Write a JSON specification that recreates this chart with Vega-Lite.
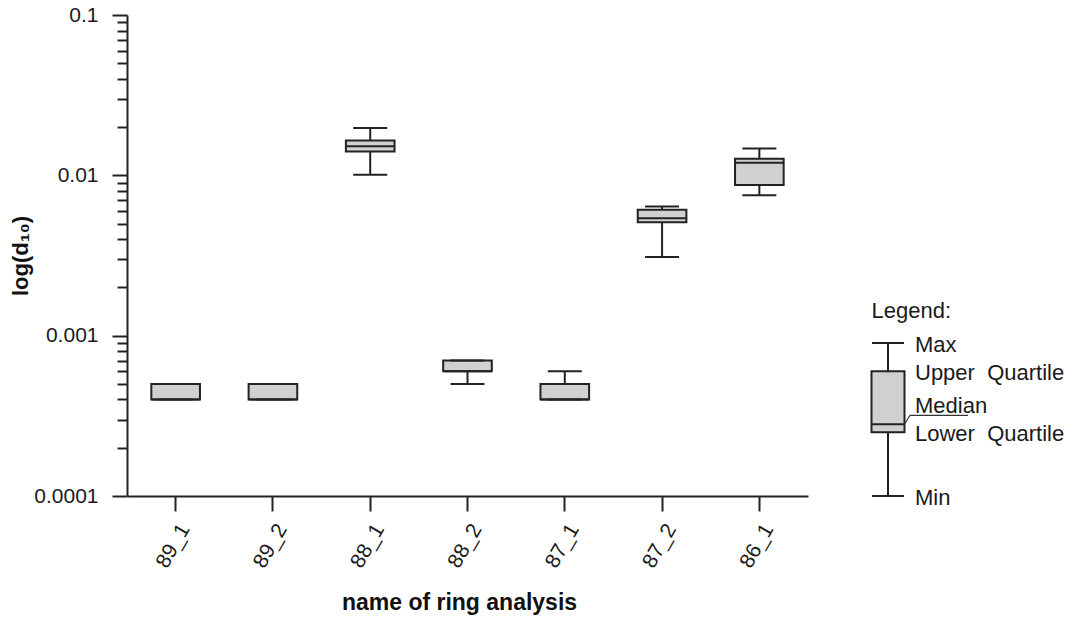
{
  "$schema": "https://vega.github.io/schema/vega-lite/v6.json",
  "background": "white",
  "padding": {"left": 9, "top": 4, "right": 5, "bottom": 5},
  "config": {
    "view": {"stroke": null},
    "font": "Liberation Sans",
    "axis": {
      "labelFont": "Liberation Sans",
      "titleFont": "Liberation Sans",
      "domainColor": "#222222",
      "tickColor": "#222222",
      "labelColor": "#1a1a1a",
      "titleColor": "#111111",
      "domainWidth": 2,
      "tickWidth": 2,
      "grid": false
    }
  },
  "datasets": {
    "rings": [
      {"name": "89_1", "min": 0.0004, "q1": 0.0004, "median": 0.0004, "q3": 0.0005, "max": 0.0005},
      {"name": "89_2", "min": 0.0004, "q1": 0.0004, "median": 0.0004, "q3": 0.0005, "max": 0.0005},
      {"name": "88_1", "min": 0.0101, "q1": 0.0141, "median": 0.0152, "q3": 0.0165, "max": 0.0197},
      {"name": "88_2", "min": 0.0005, "q1": 0.0006, "median": 0.0006, "q3": 0.0007, "max": 0.0007},
      {"name": "87_1", "min": 0.0004, "q1": 0.0004, "median": 0.0004, "q3": 0.0005, "max": 0.0006},
      {"name": "87_2", "min": 0.0031, "q1": 0.0051, "median": 0.0054, "q3": 0.0061, "max": 0.0064},
      {"name": "86_1", "min": 0.0075, "q1": 0.0087, "median": 0.012, "q3": 0.0127, "max": 0.0147}
    ],
    "legendBox": [
      {"key": "legend", "min": 0.0001, "q1": 0.00025, "median": 0.00028, "q3": 0.0006, "max": 0.0009}
    ],
    "legendLabels": [
      {"key": "legend", "stat": "max", "label": "Max", "value": 0.0009},
      {"key": "legend", "stat": "q3", "label": "Upper\u00a0 Quartile", "value": 0.0006},
      {"key": "legend", "stat": "median", "label": "Median", "value": 0.00028},
      {"key": "legend", "stat": "q1", "label": "Lower\u00a0 Quartile", "value": 0.00025},
      {"key": "legend", "stat": "min", "label": "Min", "value": 0.0001}
    ]
  },
  "bounds": "flush",
  "spacing": 50,
  "hconcat": [
    {
      "width": 681,
      "height": 481,
      "data": {"name": "rings"},
      "encoding": {
        "x": {
          "field": "name",
          "type": "nominal",
          "sort": null,
          "scale": {"paddingInner": 0, "paddingOuter": 0},
          "axis": {
            "title": "name of ring analysis",
            "labelAngle": -60,
            "labelAlign": "right",
            "labelBaseline": "top",
            "labelPadding": 9,
            "labelFontSize": 21,
            "tickSize": 15,
            "titleFontSize": 23,
            "titleFontWeight": "bold",
            "titleBaseline": "alphabetic",
            "titleY": 113,
            "titleX": 332
          }
        }
      },
      "layer": [
        {
          "mark": {"type": "rule", "stroke": "#222222", "strokeWidth": 2},
          "encoding": {
            "y": {
              "field": "min",
              "type": "quantitative",
              "title": "log(d₁₀)",
              "scale": {"type": "log", "domain": [0.0001, 0.1], "nice": false},
              "axis": {
                "values": [0.0001, 0.0002, 0.0003, 0.0004, 0.0005, 0.0006, 0.0007, 0.0008, 0.0009,
                           0.001, 0.002, 0.003, 0.004, 0.005, 0.006, 0.007, 0.008, 0.009,
                           0.01, 0.02, 0.03, 0.04, 0.05, 0.06, 0.07, 0.08, 0.09, 0.1],
                "tickSize": {
                  "condition": {"test": "abs(log(datum.value)/LN10 - round(log(datum.value)/LN10)) < 0.001", "value": 15},
                  "value": 10
                },
                "labelExpr": "abs(log(datum.value)/LN10 - round(log(datum.value)/LN10)) < 0.001 ? format(datum.value, '~g') : ''",
                "labelFontSize": 21,
                "labelPadding": 14,
                "labelFlush": false,
                "labelOverlap": false,
                "titleFontSize": 22,
                "titleFontWeight": "bold",
                "titleBaseline": "middle",
                "titleX": -107
              }
            },
            "y2": {"field": "q1"}
          }
        },
        {
          "mark": {"type": "rule", "stroke": "#222222", "strokeWidth": 2},
          "encoding": {
            "y": {"field": "q3", "type": "quantitative", "title": "log(d₁₀)"},
            "y2": {"field": "max"}
          }
        },
        {
          "mark": {"type": "bar", "width": {"band": 0.5}, "fill": "#d0d0d0", "stroke": "#222222", "strokeWidth": 2},
          "encoding": {
            "y": {"field": "q1", "type": "quantitative", "title": "log(d₁₀)"},
            "y2": {"field": "q3"}
          }
        },
        {
          "mark": {"type": "tick", "size": 48, "thickness": 2, "color": "#222222", "opacity": 1},
          "encoding": {"y": {"field": "median", "type": "quantitative", "title": "log(d₁₀)"}}
        },
        {
          "mark": {"type": "tick", "size": 34, "thickness": 2, "color": "#222222", "opacity": 1},
          "encoding": {"y": {"field": "min", "type": "quantitative", "title": "log(d₁₀)"}}
        },
        {
          "mark": {"type": "tick", "size": 34, "thickness": 2, "color": "#222222", "opacity": 1},
          "encoding": {"y": {"field": "max", "type": "quantitative", "title": "log(d₁₀)"}}
        }
      ]
    },
    {
      "width": 60,
      "height": 481,
      "encoding": {
        "x": {"field": "key", "type": "nominal", "scale": {"type": "point", "padding": 0.5}, "axis": null}
      },
      "layer": [
        {
          "data": {"name": "legendBox"},
          "mark": {"type": "rule", "stroke": "#222222", "strokeWidth": 2},
          "encoding": {
            "y": {"field": "min", "type": "quantitative", "scale": {"type": "log", "domain": [0.0001, 0.1], "nice": false}, "axis": null},
            "y2": {"field": "q1"}
          }
        },
        {
          "data": {"name": "legendBox"},
          "mark": {"type": "rule", "stroke": "#222222", "strokeWidth": 2},
          "encoding": {
            "y": {"field": "q3", "type": "quantitative", "axis": null},
            "y2": {"field": "max"}
          }
        },
        {
          "data": {"name": "legendBox"},
          "mark": {"type": "bar", "width": 33, "fill": "#d0d0d0", "stroke": "#222222", "strokeWidth": 2},
          "encoding": {
            "y": {"field": "q1", "type": "quantitative", "axis": null},
            "y2": {"field": "q3"}
          }
        },
        {
          "data": {"name": "legendBox"},
          "mark": {"type": "tick", "size": 33, "thickness": 2, "color": "#222222", "opacity": 1},
          "encoding": {"y": {"field": "median", "type": "quantitative", "axis": null}}
        },
        {
          "data": {"name": "legendBox"},
          "mark": {"type": "tick", "size": 32, "thickness": 2, "color": "#222222", "opacity": 1},
          "encoding": {"y": {"field": "min", "type": "quantitative", "axis": null}}
        },
        {
          "data": {"name": "legendBox"},
          "mark": {"type": "tick", "size": 32, "thickness": 2, "color": "#222222", "opacity": 1},
          "encoding": {"y": {"field": "max", "type": "quantitative", "axis": null}}
        },
        {
          "data": {"name": "legendBox"},
          "mark": {"type": "rule", "stroke": "#333333", "strokeWidth": 1.2, "xOffset": 16.5, "x2Offset": 22, "y2Offset": -9},
          "encoding": {
            "x2": {"field": "key"},
            "y": {"field": "median", "type": "quantitative", "axis": null},
            "y2": {"field": "median"}
          }
        },
        {
          "data": {"name": "legendBox"},
          "mark": {"type": "rule", "stroke": "#333333", "strokeWidth": 1.2, "xOffset": 22, "x2Offset": 80, "yOffset": -9, "y2Offset": -9},
          "encoding": {
            "x2": {"field": "key"},
            "y": {"field": "median", "type": "quantitative", "axis": null},
            "y2": {"field": "median"}
          }
        },
        {
          "data": {"name": "legendBox"},
          "mark": {"type": "text", "align": "left", "baseline": "middle", "dx": -16.5, "dy": -32, "fontSize": 22, "font": "Liberation Sans", "color": "#1a1a1a"},
          "encoding": {
            "y": {"field": "max", "type": "quantitative", "axis": null},
            "text": {"value": "Legend:"}
          }
        },
        {
          "data": {"name": "legendLabels"},
          "transform": [{"filter": "datum.stat !== 'median'"}],
          "mark": {"type": "text", "align": "left", "baseline": "middle", "dx": 27, "dy": 2, "fontSize": 22, "font": "Liberation Sans", "color": "#1a1a1a"},
          "encoding": {
            "y": {"field": "value", "type": "quantitative", "axis": null},
            "text": {"field": "label"}
          }
        },
        {
          "data": {"name": "legendLabels"},
          "transform": [{"filter": "datum.stat === 'median'"}],
          "mark": {"type": "text", "align": "left", "baseline": "middle", "dx": 27, "dy": -18, "fontSize": 22, "font": "Liberation Sans", "color": "#1a1a1a"},
          "encoding": {
            "y": {"field": "value", "type": "quantitative", "axis": null},
            "text": {"field": "label"}
          }
        }
      ]
    }
  ]
}
